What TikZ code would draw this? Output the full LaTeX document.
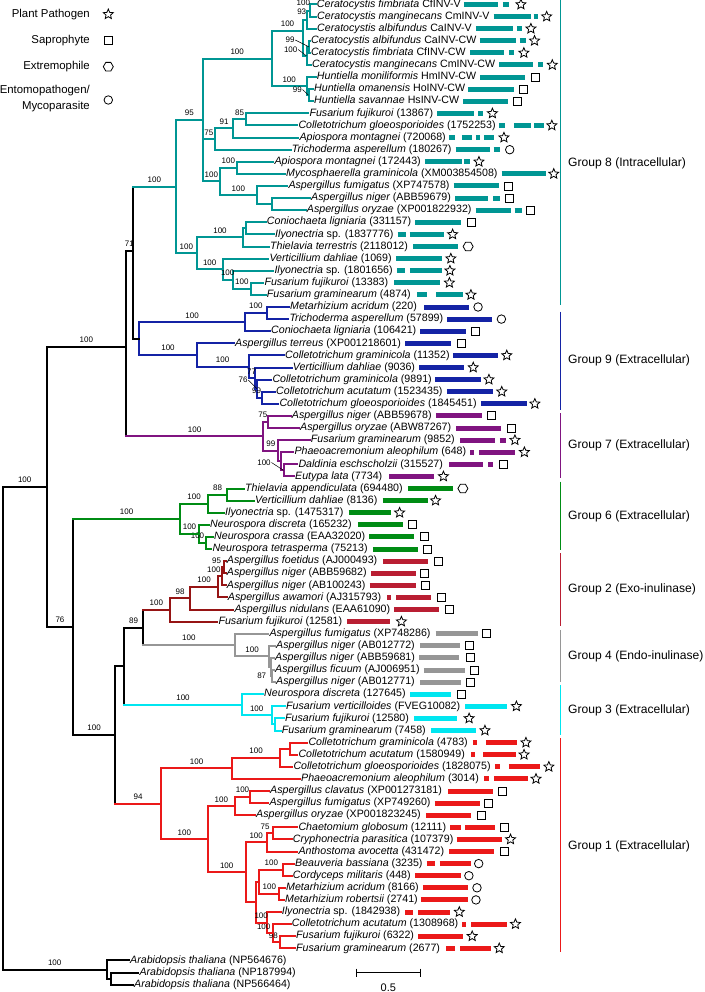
\documentclass[tikz,border=0pt]{standalone}
\usepackage{fontspec}
\setmainfont{Liberation Sans}
\usetikzlibrary{shapes.geometric}

\definecolor{g8}{RGB}{0,150,148}
\definecolor{g9}{RGB}{20,35,165}
\definecolor{g7}{RGB}{128,20,128}
\definecolor{g6}{RGB}{0,140,20}
\definecolor{g2}{RGB}{185,30,50}
\definecolor{g2r}{RGB}{150,20,20}
\definecolor{g4}{RGB}{150,150,150}
\definecolor{g3}{RGB}{0,230,240}
\definecolor{g1}{RGB}{235,25,25}
\colorlet{gc}{g8}

\tikzset{
  foglia/.style={anchor=west, inner sep=0pt, inner xsep=1pt, text height=7.6pt, text depth=2.2pt, font=\fontsize{10.65}{12}\selectfont},
  barra/.style={line width=5pt, color=gc},
  ramo/.style={line width=2pt, line cap=rect},
  sup/.style={pos=0.75, above=2.4pt, inner sep=0.6pt, text=black, font=\fontsize{8}{9}\selectfont},
  supm/.style={midway, above=2.4pt, inner sep=0.6pt, text=black, font=\fontsize{8}{9}\selectfont},
  supn/.style={inner sep=0.6pt, font=\fontsize{8}{9}\selectfont},
  guida/.style={line width=0.5pt},
  stella/.style={star, star points=5, star point ratio=2.2, minimum size=10.5pt, inner sep=0pt, draw, line width=0.8pt},
  quadrato/.style={rectangle, minimum size=8pt, inner sep=0pt, draw, line width=0.9pt},
  esagono/.style={regular polygon, regular polygon sides=6, minimum size=10pt, inner sep=0pt, draw, line width=0.8pt},
  cerchio/.style={circle, minimum size=8.5pt, inner sep=0pt, draw, line width=0.8pt},
  gruppo/.style={anchor=west, inner sep=0pt, font=\fontsize{12.1}{14}\selectfont},
  legenda/.style={anchor=east, inner sep=0pt, align=right, font=\fontsize{11.4}{16}\selectfont},
  lato/.style={line width=1.3pt},
}

% foglia: indice, x, testo, barre, posizione simbolo, simbolo
\newcommand{\foglia}[6]{%
  \node[foglia] (l#1) at (#2,{4.5+12.1*(#1-1)}) {#3};
  \foreach \p/\q in {#4} {\draw[barra] ([xshift=\p pt]l#1.east) -- ([xshift=\q pt]l#1.east);}
  \node[#6] (s#1) at ([xshift=#5pt]l#1.east) {};}

\begin{document}
\begin{tikzpicture}[x={(1pt,0pt)}, y={(0pt,-1pt)}]
    \useasboundingbox (0,0) rectangle (704,992);

    % Legenda
    \node[legenda] (t1) at (90,14.3) {Plant Pathogen};
    \node[legenda] (t2) at (90,40.7) {Saprophyte};
    \node[legenda] (t3) at (90,66.7) {Extremophile};
    \node[legenda] (t4) at (90,99) {Entomopathogen/\\Mycoparasite};
    \node[stella] (k1) at (108.3,14.3) {};
    \node[quadrato] (k2) at (108.3,40.7) {};
    \node[esagono] (k3) at (108.3,66.7) {};
    \node[cerchio] (k4) at (108.3,100) {};

    % Foglie - Gruppo 8
    \colorlet{gc}{g8}
    \foglia{1}{315.7}{{\itshape Ceratocystis fimbriata} CfINV-V}{2/36,41/47}{59}{stella}
    \foglia{2}{316}{{\itshape Ceratocystis manginecans} CmINV-V}{3/40,43/47}{56}{stella}
    \foglia{3}{316}{{\itshape Ceratocystis albifundus} CaINV-V}{3/40,44/49}{58}{stella}
    \foglia{4}{310}{{\itshape Ceratocystis albifundus} CaINV-CW}{2/38,42/48}{57}{stella}
    \foglia{5}{310}{{\itshape Ceratocystis fimbriata} CfINV-CW}{3/37,42/47}{57}{stella}
    \foglia{6}{311}{{\itshape Ceratocystis manginecans} CmINV-CW}{3/37,42/47}{56}{stella}
    \foglia{7}{315.7}{{\itshape Huntiella moniliformis} HmINV-CW}{3/48}{58}{quadrato}
    \foglia{8}{313}{{\itshape Huntiella omanensis} HoINV-CW}{2/48}{57}{quadrato}
    \foglia{9}{313}{{\itshape Huntiella savannae} HsINV-CW}{3/48}{57}{quadrato}
    \foglia{10}{308.3}{{\itshape Fusarium fujikuroi} (13867)}{3/40,44/49}{58}{stella}
    \foglia{11}{297.3}{{\itshape Colletotrichum gloeosporioides} (1752253)}{2/8,17/34,37/47}{55}{stella}
    \foglia{12}{298.3}{{\itshape Apiospora montagnei} (720068)}{2/8,15/25,29/33,37/47}{57}{stella}
    \foglia{13}{290.7}{{\itshape Trichoderma asperellum} (180267)}{3/37,41/47}{57}{cerchio}
    \foglia{14}{273.3}{{\itshape Apiospora montagnei} (172443)}{3/40,42/48}{57}{stella}
    \foglia{15}{285}{{\itshape Mycosphaerella graminicola} (XM003854508)}{3/47}{55}{stella}
    \foglia{16}{287.3}{{\itshape Aspergillus fumigatus} (XP747578)}{3/48}{58}{quadrato}
    \foglia{17}{310}{{\itshape Aspergillus niger} (ABB59679)}{3/36,41/48}{57}{quadrato}
    \foglia{18}{305.7}{{\itshape Aspergillus oryzae} (XP001822932)}{3/38,42/49}{58}{quadrato}
    \foglia{19}{265.7}{{\itshape Coniochaeta ligniaria} (331157)}{3/49}{59}{quadrato}
    \foglia{20}{274}{{\itshape Ilyonectria} sp. (1837776)}{3/11,15/49}{58}{stella}
    \foglia{21}{269}{{\itshape Thielavia terrestris} (2118012)}{4/49}{59}{esagono}
    \foglia{22}{268.3}{{\itshape Verticillium dahliae} (1069)}{3/49}{58}{stella}
    \foglia{23}{273.3}{{\itshape Ilyonectria} sp. (1801656)}{3/11,16/48}{56}{stella}
    \foglia{24}{263.3}{{\itshape Fusarium fujikuroi} (13383)}{5/51}{60}{stella}
    \foglia{25}{265.7}{{\itshape Fusarium graminearum} (4874)}{5/15,24/51}{59}{stella}

    % Foglie - Gruppo 9
    \colorlet{gc}{g9}
    \foglia{26}{289}{{\itshape Metarhizium acridum} (220)}{6/51}{60}{cerchio}
    \foglia{27}{288.3}{{\itshape Trichoderma asperellum} (57899)}{3/48}{57}{cerchio}
    \foglia{28}{270}{{\itshape Coniochaeta ligniaria} (106421)}{3/49}{58}{quadrato}
    \foglia{29}{234}{{\itshape Aspergillus terreus} (XP001218601)}{3/49}{59}{quadrato}
    \foglia{30}{284}{{\itshape Colletotrichum graminicola} (11352)}{2/47}{56}{stella}
    \foglia{31}{291.7}{{\itshape Verticillium dahliae} (9036)}{3/48}{57}{stella}
    \foglia{32}{271.3}{{\itshape Colletotrichum graminicola} (9891)}{2/48}{56}{stella}
    \foglia{33}{275}{{\itshape Colletotrichum acutatum} (1523435)}{3/49}{58}{stella}
    \foglia{34}{278.3}{{\itshape Colletotrichum gloeosporioides} (1845451)}{3/49}{57}{stella}

    % Foglie - Gruppo 7
    \colorlet{gc}{g7}
    \foglia{35}{290.7}{{\itshape Aspergillus niger} (ABB59678)}{3/49}{59}{quadrato}
    \foglia{36}{299}{{\itshape Aspergillus oryzae} (ABW87267)}{4/49}{59}{quadrato}
    \foglia{37}{309.7}{{\itshape Fusarium graminearum} (9852)}{4/39,44/50}{59}{stella}
    \foglia{38}{293.3}{{\itshape Phaeoacremonium aleophilum} (648)}{3/7,12/48}{57}{stella}
    \foglia{39}{297.3}{{\itshape Daldinia eschscholzii} (315527)}{5/39,44/49}{59}{quadrato}
    \foglia{40}{294}{{\itshape Eutypa lata} (7734)}{6/51}{60}{stella}

    % Foglie - Gruppo 6
    \colorlet{gc}{g6}
    \foglia{41}{244}{{\itshape Thielavia appendiculata} (694480)}{4/49}{59}{esagono}
    \foglia{42}{254}{{\itshape Verticillium dahliae} (8136)}{4/49}{57}{stella}
    \foglia{43}{224}{{\itshape Ilyonectria} sp. (1475317)}{4/46}{55}{stella}
    \foglia{44}{209}{{\itshape Neurospora discreta} (165232)}{5/50}{60}{quadrato}
    \foglia{45}{213}{{\itshape Neurospora crassa} (EAA32020)}{3/48}{58}{quadrato}
    \foglia{46}{211.3}{{\itshape Neurospora tetrasperma} (75213)}{4/49}{59}{quadrato}

    % Foglie - Gruppo 2
    \colorlet{gc}{g2}
    \foglia{47}{225.7}{{\itshape Aspergillus foetidus} (AJ000493)}{5/50}{60}{quadrato}
    \foglia{48}{225.7}{{\itshape Aspergillus niger} (ABB59682)}{3/48}{57}{quadrato}
    \foglia{49}{225.7}{{\itshape Aspergillus niger} (AB100243)}{3/49}{59}{quadrato}
    \foglia{50}{226.7}{{\itshape Aspergillus awamori} (AJ315793)}{5/9,14/49}{59}{quadrato}
    \foglia{51}{233.3}{{\itshape Aspergillus nidulans} (EAA61090)}{3/48}{58}{quadrato}
    \foglia{52}{217.3}{{\itshape Fusarium fujikuroi} (12581)}{4/47}{58}{stella}

    % Foglie - Gruppo 4
    \colorlet{gc}{g4}
    \foglia{53}{268.3}{{\itshape Aspergillus fumigatus} (XP748286)}{4/46}{55}{quadrato}
    \foglia{54}{275}{{\itshape Aspergillus niger} (AB012772)}{4/44}{54}{quadrato}
    \foglia{55}{274}{{\itshape Aspergillus niger} (ABB59681)}{3/43}{54}{quadrato}
    \foglia{56}{274}{{\itshape Aspergillus ficuum} (AJ006951)}{3/44}{54}{quadrato}
    \foglia{57}{275}{{\itshape Aspergillus niger} (AB012771)}{4/45}{55}{quadrato}

    % Foglie - Gruppo 3
    \colorlet{gc}{g3}
    \foglia{58}{263}{{\itshape Neurospora discreta} (127645)}{3/44}{55}{quadrato}
    \foglia{59}{285}{{\itshape Fusarium verticilloides} (FVEG10082)}{4/46}{55}{stella}
    \foglia{60}{284}{{\itshape Fusarium fujikuroi} (12580)}{4/47}{59}{stella}
    \foglia{61}{280.7}{{\itshape Fusarium graminearum} (7458)}{4/49}{58}{stella}

    % Foglie - Gruppo 1
    \colorlet{gc}{g1}
    \foglia{62}{307.3}{{\itshape Colletotrichum graminicola} (4783)}{4/8,17/48}{57}{stella}
    \foglia{63}{297.3}{{\itshape Colletotrichum acutatum} (1580949)}{5/9,17/50}{58}{stella}
    \foglia{64}{292.3}{{\itshape Colletotrichum gloeosporioides} (1828075)}{3/8,17/48}{57}{stella}
    \foglia{65}{300}{{\itshape Phaeoacremonium aleophilum} (3014)}{4/9,14/48}{56}{stella}
    \foglia{66}{269}{{\itshape Aspergillus clavatus} (XP001273181)}{5/50}{59}{quadrato}
    \foglia{67}{268.3}{{\itshape Aspergillus fumigatus} (XP749260)}{3/48}{57}{quadrato}
    \foglia{68}{255}{{\itshape Aspergillus oryzae} (XP001823245)}{4/49}{59}{quadrato}
    \foglia{69}{297.3}{{\itshape Chaetomium globosum} (12111)}{3/14,18/48}{57}{quadrato}
    \foglia{70}{291.7}{{\itshape Cryphonectria parasitica} (107379)}{2/47}{56}{stella}
    \foglia{71}{297.3}{{\itshape Anthostoma avocetta} (431472)}{4/49}{59}{quadrato}
    \foglia{72}{294}{{\itshape Beauveria bassiana} (3235)}{3/11,16/47}{55}{cerchio}
    \foglia{73}{291.7}{{\itshape Cordyceps militaris} (448)}{3/49}{57}{cerchio}
    \foglia{74}{285}{{\itshape Metarhizium acridum} (8166)}{3/48}{57}{cerchio}
    \foglia{75}{284}{{\itshape Metarhizium robertsii} (2741)}{2/49}{57}{cerchio}
    \foglia{76}{280.7}{{\itshape Ilyonectria} sp. (1842938)}{4/12,17/49}{58}{stella}
    \foglia{77}{290.7}{{\itshape Colletotrichum acutatum} (1308968)}{3/7,12/48}{56}{stella}
    \foglia{78}{295}{{\itshape Fusarium fujikuroi} (6322)}{3/48}{57}{stella}
    \foglia{79}{295}{{\itshape Fusarium graminearum} (2677)}{5/14,19/50}{58}{stella}

    % Outgroup
    \node[foglia] (l80) at (129,960.4) {{\itshape Arabidopsis thaliana} (NP564676)};
    \node[foglia] (l81) at (138.3,972.5) {{\itshape Arabidopsis thaliana} (NP187994)};
    \node[foglia] (l82) at (133,984.6) {{\itshape Arabidopsis thaliana} (NP566464)};

    % Nodi interni
    \coordinate (ca) at (309.5,10.55);
    \coordinate (cb) at (307,19.6);
    \coordinate (cc) at (309,46.85);
    \coordinate (cd) at (306.5,55.9);
    \coordinate (ce) at (303.3,31);
    \coordinate (hh) at (308.5,95.25);
    \coordinate (hu) at (306.7,86.2);
    \coordinate (ch) at (271.7,58.6);
    \coordinate (n85) at (246,119.45);
    \coordinate (n91) at (233.3,128.5);
    \coordinate (n75) at (215,139.1);
    \coordinate (n14) at (236.7,167.85);
    \coordinate (nas) at (271.7,204.15);
    \coordinate (nas2) at (256.7,195.1);
    \coordinate (nb) at (220,181.5);
    \coordinate (ne) at (202.7,120);
    \coordinate (ng1) at (246,228.35);
    \coordinate (ng) at (243.3,237.4);
    \coordinate (nj) at (251,288.85);
    \coordinate (ni) at (232.7,279.8);
    \coordinate (nh) at (222.7,269.2);
    \coordinate (nf) at (196.7,253.3);
    \coordinate (nd) at (176,186.7);
    \coordinate (k1n) at (266.7,313.05);
    \coordinate (nl) at (245,322.1);
    \coordinate (nq) at (262,397.75);
    \coordinate (np) at (257,388.7);
    \coordinate (no) at (254.5,378.1);
    \coordinate (nn) at (248.5,366.75);
    \coordinate (nm) at (196.7,355.05);
    \coordinate (nk) at (139.3,338.6);
    \coordinate (nc) at (132.7,251);
    \coordinate (ns) at (268.3,421.95);
    \coordinate (nu) at (283.5,470.35);
    \coordinate (nt2) at (280.5,461.3);
    \coordinate (nt) at (278.3,450.7);
    \coordinate (nr) at (263.3,436.3);
    \coordinate (nbb) at (126,346.7);
    \coordinate (n88) at (226.7,494.55);
    \coordinate (nx) at (208.3,503.6);
    \coordinate (nz) at (206,542.95);
    \coordinate (ny) at (199,533.9);
    \coordinate (n6) at (180,518.75);
    \coordinate (q1) at (223.5,567.15);
    \coordinate (af) at (221.5,576.2);
    \coordinate (ae) at (218.3,586.8);
    \coordinate (ad) at (190,598.15);
    \coordinate (n2) at (170,609.9);
    \coordinate (h1) at (272,676.05);
    \coordinate (h2) at (270.5,667);
    \coordinate (ah) at (269.3,656.4);
    \coordinate (n4) at (235,645.05);
    \coordinate (ac) at (142.7,627.5);
    \coordinate (c1) at (275,724.45);
    \coordinate (ai) at (271.7,715.4);
    \coordinate (n3) at (241.7,704.8);
    \coordinate (ab) at (124.3,666.15);
    \coordinate (r1) at (290,748.65);
    \coordinate (al) at (280,757.7);
    \coordinate (aj) at (232.3,768.3);
    \coordinate (ao) at (250,797.05);
    \coordinate (am) at (235,806.1);
    \coordinate (r75) at (273.3,833.35);
    \coordinate (ap) at (266.7,842.4);
    \coordinate (r72) at (283.3,869.65);
    \coordinate (r74) at (279.3,893.85);
    \coordinate (ar) at (259.3,881.75);
    \coordinate (r98) at (280,942.25);
    \coordinate (r77) at (272.7,933.2);
    \coordinate (as) at (266.7,922.6);
    \coordinate (aq) at (255.7,902.2);
    \coordinate (an) at (245.7,872.3);
    \coordinate (ak) at (207.7,839.2);
    \coordinate (n1) at (161,803.75);
    \coordinate (nw) at (115,734.95);
    \coordinate (nv) at (73.3,626.85);
    \coordinate (nA) at (46.7,486.8);
    \coordinate (og2) at (110.7,978.55);
    \coordinate (og) at (106.7,969.5);
    \coordinate (root) at (2.7,728.15);

    % Rami - Gruppo 8
    \draw[ramo,g8] (ca) |- (l1.west) (ca) |- (l2.west);
    \draw[ramo,g8] (cb) |- (ca) (cb) |- (l3.west);
    \draw[ramo,g8] (cc) |- (l4.west) (cc) |- (l5.west);
    \draw[ramo,g8] (cd) |- (cc) (cd) |- (l6.west);
    \draw[ramo,g8] (ce) |- (cb) (ce) |- (cd);
    \draw[ramo,g8] (hh) |- (l8.west) (hh) |- (l9.west);
    \draw[ramo,g8] (hu) |- (l7.west) (hu) |- (hh);
    \draw[ramo,g8] (ch) |- node[sup]{100} (ce) (ch) |- node[sup]{100} (hu);
    \draw[ramo,g8] (n85) |- (l10.west) (n85) |- (l11.west);
    \draw[ramo,g8] (n91) |- node[sup]{85} (n85) (n91) |- (l12.west);
    \draw[ramo,g8] (n75) |- node[sup]{91} (n91) (n75) |- (l13.west);
    \draw[ramo,g8] (n14) |- (l14.west) (n14) |- (l15.west);
    \draw[ramo,g8] (nas) |- (l17.west) (nas) |- (l18.west);
    \draw[ramo,g8] (nas2) |- (l16.west) (nas2) |- (nas);
    \draw[ramo,g8] (nb) |- node[sup]{100} (n14) (nb) |- node[sup]{100} (nas2);
    \draw[ramo,g8] (ne) |- node[sup]{100} (ch) (ne) |- node[sup]{75} (n75) (ne) |- node[sup]{100} (nb);
    \draw[ramo,g8] (ng1) |- (l19.west) (ng1) |- (l20.west);
    \draw[ramo,g8] (ng) |- (ng1) (ng) |- (l21.west);
    \draw[ramo,g8] (nj) |- (l24.west) (nj) |- (l25.west);
    \draw[ramo,g8] (ni) |- (l23.west) (ni) |- node[sup]{100} (nj);
    \draw[ramo,g8] (nh) |- (l22.west) (nh) |- node[sup]{100} (ni);
    \draw[ramo,g8] (nf) |- node[sup]{100} (ng) (nf) |- node[sup]{100} (nh);
    \draw[ramo,g8] (nd) |- node[sup]{95} (ne) (nd) |- node[sup]{100} (nf);
    \node[supn] (sca) at (303.3,3) {100};
    \node[supn] (scb) at (301.7,12) {93};
    \node[supn] (scc) at (290,40) {99};
    \node[supn] (scd) at (290.7,49.5) {100};
    \node[supn] (shh) at (297.3,89.5) {99};
    \draw[guida] (scc.east) -- (cc);
    \draw[guida] (scd.east) -- (cd);
    \draw[guida] (shh.east) -- (hh);

    % Rami - Gruppo 9
    \draw[ramo,g9] (k1n) |- (l26.west) (k1n) |- (l27.west);
    \draw[ramo,g9] (nl) |- node[sup]{100} (k1n) (nl) |- (l28.west);
    \draw[ramo,g9] (nq) |- (l33.west) (nq) |- (l34.west);
    \draw[ramo,g9] (np) |- (l32.west) (np) |- node[sup,xshift=-3pt]{99} (nq);
    \draw[ramo,g9] (no) |- (l31.west) (no) |- (np);
    \draw[ramo,g9] (nn) |- (l30.west) (nn) |- node[sup]{77} (no);
    \draw[ramo,g9] (nm) |- (l29.west) (nm) |- node[sup]{100} (nn);
    \draw[ramo,g9] (nk) |- node[sup]{100} (nl) (nk) |- node[sup]{100} (nm);
    \node[supn] (snp) at (243,380) {76};
    \draw[guida] (snp.east) -- (np);

    % Rami - Gruppo 7
    \draw[ramo,g7] (ns) |- (l35.west) (ns) |- (l36.west);
    \draw[ramo,g7] (nu) |- (l39.west) (nu) |- (l40.west);
    \draw[ramo,g7] (nt2) |- (l38.west) (nt2) |- (nu);
    \draw[ramo,g7] (nt) |- (l37.west) (nt) |- (nt2);
    \draw[ramo,g7] (nr) |- node[sup,xshift=-3pt]{75} (ns) (nr) |- node[sup]{99} (nt);
    \node[supn] (snu) at (264,462.5) {100};
    \draw[guida] (snu.east) -- (nu);

    % Rami - Gruppo 6
    \draw[ramo,g6] (n88) |- (l41.west) (n88) |- (l42.west);
    \draw[ramo,g6] (nx) |- node[sup]{88} (n88) (nx) |- (l43.west);
    \draw[ramo,g6] (nz) |- (l45.west) (nz) |- (l46.west);
    \draw[ramo,g6] (ny) |- (l44.west) (ny) |- node[sup,xshift=-5pt]{100} (nz);
    \draw[ramo,g6] (n6) |- node[sup]{100} (nx) (n6) |- node[sup]{100} (ny);

    % Rami - Gruppo 2
    \draw[ramo,g2r] (q1) |- (l47.west) (q1) |- (l48.west);
    \draw[ramo,g2r] (af) |- node[sup,xshift=-6pt]{95} (q1) (af) |- (l49.west);
    \draw[ramo,g2r] (ae) |- node[sup,xshift=-6pt]{100} (af) (ae) |- (l50.west);
    \draw[ramo,g2r] (ad) |- node[sup]{100} (ae) (ad) |- (l51.west);
    \draw[ramo,g2r] (n2) |- node[sup]{98} (ad) (n2) |- (l52.west);

    % Rami - Gruppo 4
    \draw[ramo,g4] (h1) |- (l56.west) (h1) |- (l57.west);
    \draw[ramo,g4] (h2) |- (l55.west) (h2) |- (h1);
    \draw[ramo,g4] (ah) |- (l54.west) (ah) |- (h2);
    \draw[ramo,g4] (n4) |- (l53.west) (n4) |- node[sup]{100} (ah);
    \node[supn] (sh1) at (261.7,676) {87};

    % Rami - Gruppo 3
    \draw[ramo,g3] (c1) |- (l60.west) (c1) |- (l61.west);
    \draw[ramo,g3] (ai) |- (l59.west) (ai) |- (c1);
    \draw[ramo,g3] (n3) |- (l58.west) (n3) |- node[sup]{100} (ai);

    % Rami - Gruppo 1
    \draw[ramo,g1] (r1) |- (l62.west) (r1) |- (l63.west);
    \draw[ramo,g1] (al) |- (r1) (al) |- (l64.west);
    \draw[ramo,g1] (aj) |- node[sup]{100} (al) (aj) |- (l65.west);
    \draw[ramo,g1] (ao) |- (l66.west) (ao) |- (l67.west);
    \draw[ramo,g1] (am) |- node[sup]{100} (ao) (am) |- (l68.west);
    \draw[ramo,g1] (r75) |- (l69.west) (r75) |- (l70.west);
    \draw[ramo,g1] (ap) |- node[sup,xshift=-5pt]{75} (r75) (ap) |- (l71.west);
    \draw[ramo,g1] (r72) |- (l72.west) (r72) |- (l73.west);
    \draw[ramo,g1] (r74) |- (l74.west) (r74) |- (l75.west);
    \draw[ramo,g1] (ar) |- node[sup]{100} (r72) (ar) |- node[sup]{100} (r74);
    \draw[ramo,g1] (r98) |- (l78.west) (r98) |- (l79.west);
    \draw[ramo,g1] (r77) |- (l77.west) (r77) |- node[sup,xshift=-3pt]{98} (r98);
    \draw[ramo,g1] (as) |- (l76.west) (as) |- node[sup,xshift=-6pt]{100} (r77);
    \draw[ramo,g1] (aq) |- (ar) (aq) |- node[sup]{100} (as);
    \draw[ramo,g1] (an) |- node[sup]{100} (ap) (an) |- (aq);
    \draw[ramo,g1] (ak) |- node[sup]{100} (am) (ak) |- node[sup]{100} (an);
    \draw[ramo,g1] (n1) |- node[sup]{100} (aj) (n1) |- node[sup]{100} (ak);

    % Spina dorsale
    \draw[ramo] (nc) |- (nk) (nc) -- (nc |- nd);
    \draw[ramo,g8] (nc |- nd) -- node[supm]{100} (nd);
    \draw[ramo] (nbb) |- node[sup]{71} (nc) (nbb) -- (nbb |- nr);
    \draw[ramo,g7] (nbb |- nr) -- node[supm]{100} (nr);
    \draw[ramo] (ac) -- (ac |- n2) (ac) -- (ac |- n4);
    \draw[ramo,g2r] (ac |- n2) -- node[supm]{100} (n2);
    \draw[ramo,g4] (ac |- n4) -- node[supm]{100} (n4);
    \draw[ramo] (ab) |- node[sup]{89} (ac) (ab) -- (ab |- n3);
    \draw[ramo,g3] (ab |- n3) -- node[supm]{100} (n3);
    \draw[ramo] (nw) |- (ab) (nw) -- (nw |- n1);
    \draw[ramo,g1] (nw |- n1) -- node[supm]{94} (n1);
    \draw[ramo] (nv) -- (nv |- n6) (nv) |- node[sup]{100} (nw);
    \draw[ramo,g6] (nv |- n6) -- node[supm]{100} (n6);
    \draw[ramo] (nA) |- node[sup]{100} (nbb) (nA) |- node[sup]{76} (nv);
    \draw[ramo] (root) |- node[sup]{100} (nA) (root) |- node[sup]{100} (og);
    \draw[ramo] (og2) |- (l81.west) (og2) |- (l82.west);
    \draw[ramo] (og) |- (l80.west) (og) |- (og2);

    % Gruppi
    \draw[lato,g8] (560.7,0) -- (560.7,305);
    \draw[lato,g9] (560.7,311.7) -- (560.7,410);
    \draw[lato,g7] (560.7,413.3) -- (560.7,478);
    \draw[lato,g6] (560.7,481.7) -- (560.7,550);
    \draw[lato,g2] (560.7,553.3) -- (560.7,625.7);
    \draw[lato,g4] (560.7,630) -- (560.7,681.7);
    \draw[lato,g3] (560.7,685) -- (560.7,735);
    \draw[lato,g1] (560.7,738.3) -- (560.7,951.7);
    \node[gruppo] (G8) at (568,163.3) {Group 8 (Intracellular)};
    \node[gruppo] (G9) at (568,360) {Group 9 (Extracellular)};
    \node[gruppo] (G7) at (568,445) {Group 7 (Extracellular)};
    \node[gruppo] (G6) at (568,516) {Group 6 (Extracellular)};
    \node[gruppo] (G2) at (568,589.3) {Group 2 (Exo-inulinase)};
    \node[gruppo] (G4) at (568,656) {Group 4 (Endo-inulinase)};
    \node[gruppo] (G3) at (568,710) {Group 3 (Extracellular)};
    \node[gruppo] (G1) at (568,846.7) {Group 1 (Extracellular)};

    % Scala
    \coordinate (sa) at (356.7,972.7);
    \coordinate (sb) at (420,972.7);
    \draw[line width=1pt] (sa) -- (sb);
    \draw[line width=1pt] ([yshift=4pt]sa) -- ([yshift=-4pt]sa);
    \draw[line width=1pt] ([yshift=4pt]sb) -- ([yshift=-4pt]sb);
    \node[inner sep=0pt, font=\fontsize{11}{13}\selectfont] (scala) at (388.3,987.3) {0.5};
\end{tikzpicture}
\end{document}
